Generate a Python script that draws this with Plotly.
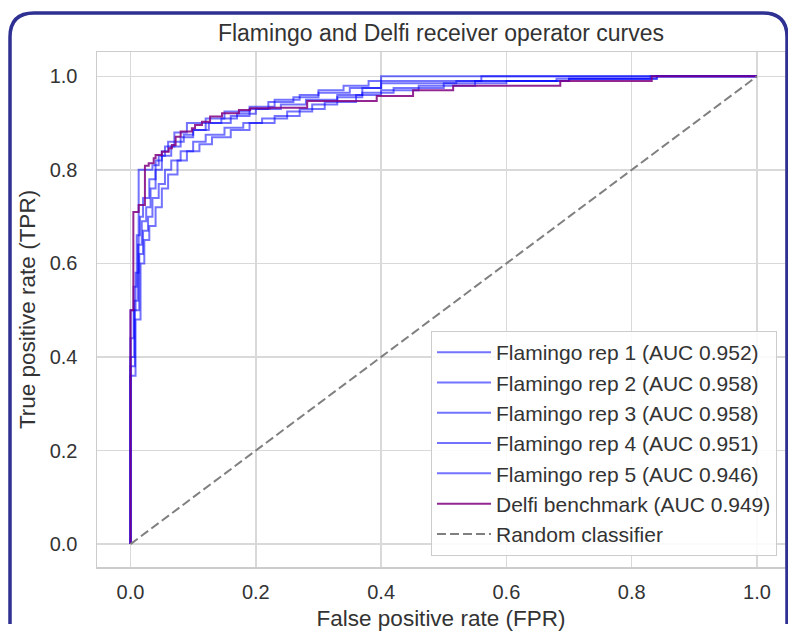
import plotly.graph_objects as go

# ---- data ----
rep1_fpr = [0, 0, 0.008, 0.013, 0.035, 0.045, 0.055, 0.07, 0.085, 0.1, 0.12, 0.145, 0.17, 0.2, 0.24, 0.28, 0.33, 0.37, 0.4, 0.52, 0.68, 0.83, 1.0]
rep1_tpr = [0, 0.50, 0.58, 0.80, 0.81, 0.83, 0.85, 0.86, 0.875, 0.885, 0.90, 0.91, 0.92, 0.93, 0.94, 0.95, 0.96, 0.975, 0.985, 0.99, 0.995, 1.0, 1.0]

rep2_fpr = [0, 0, 0.005, 0.01, 0.015, 0.02, 0.03, 0.04, 0.05, 0.06, 0.07, 0.09, 0.12, 0.15, 0.19, 0.23, 0.27, 0.30, 0.34, 0.38, 0.40, 1.0]
rep2_tpr = [0, 0.44, 0.55, 0.66, 0.70, 0.74, 0.78, 0.82, 0.84, 0.86, 0.88, 0.90, 0.91, 0.925, 0.935, 0.95, 0.96, 0.97, 0.98, 0.99, 1.0, 1.0]

rep3_fpr = [0, 0, 0.006, 0.012, 0.018, 0.025, 0.032, 0.04, 0.05, 0.065, 0.08, 0.10, 0.125, 0.16, 0.19, 0.22, 0.26, 0.30, 0.35, 0.40, 0.56, 1.0]
rep3_tpr = [0, 0.40, 0.52, 0.64, 0.69, 0.72, 0.76, 0.80, 0.83, 0.85, 0.87, 0.885, 0.90, 0.915, 0.93, 0.945, 0.955, 0.965, 0.975, 0.99, 1.0, 1.0]

rep4_fpr = [0, 0, 0.007, 0.014, 0.02, 0.028, 0.035, 0.045, 0.055, 0.065, 0.08, 0.10, 0.12, 0.15, 0.18, 0.21, 0.25, 0.29, 0.33, 0.37, 0.42, 0.50, 0.60, 0.70, 0.84, 1.0]
rep4_tpr = [0, 0.38, 0.50, 0.62, 0.67, 0.70, 0.74, 0.77, 0.80, 0.82, 0.84, 0.86, 0.875, 0.89, 0.90, 0.91, 0.925, 0.94, 0.955, 0.965, 0.975, 0.985, 0.99, 0.995, 1.0, 1.0]

rep5_fpr = [0, 0, 0.008, 0.016, 0.022, 0.03, 0.04, 0.05, 0.06, 0.075, 0.09, 0.11, 0.13, 0.16, 0.19, 0.23, 0.27, 0.31, 0.36, 0.40, 0.46, 0.55, 0.70, 0.84, 1.0]
rep5_tpr = [0, 0.36, 0.48, 0.60, 0.65, 0.68, 0.72, 0.76, 0.79, 0.82, 0.84, 0.855, 0.87, 0.885, 0.90, 0.915, 0.93, 0.945, 0.96, 0.97, 0.98, 0.99, 0.995, 1.0, 1.0]

delfi_fpr = [0, 0, 0.0045, 0.013, 0.023, 0.029, 0.037, 0.040, 0.050, 0.061, 0.066, 0.072, 0.080, 0.098, 0.103, 0.114, 0.127, 0.146, 0.173, 0.191, 0.223, 0.282, 0.393, 0.451, 0.515, 0.686, 0.832, 1.0]
delfi_tpr = [0, 0.50, 0.71, 0.725, 0.809, 0.814, 0.825, 0.832, 0.839, 0.846, 0.853, 0.871, 0.882, 0.889, 0.896, 0.903, 0.914, 0.921, 0.928, 0.932, 0.933, 0.947, 0.958, 0.970, 0.98, 0.99, 1.0, 1.0]

random_fpr = [0, 1]
random_tpr = [0, 1]

rep_names = ["Flamingo rep 1 (AUC 0.952)", "Flamingo rep 2 (AUC 0.958)",
             "Flamingo rep 3 (AUC 0.958)", "Flamingo rep 4 (AUC 0.951)",
             "Flamingo rep 5 (AUC 0.946)"]
delfi_name = "Delfi benchmark (AUC 0.949)"
random_name = "Random classifier"

x_ticks = [0.0, 0.2, 0.4, 0.6, 0.8, 1.0]
y_ticks = [0.0, 0.2, 0.4, 0.6, 0.8, 1.0]

TEXT = "#333333"
FONT = "Liberation Sans, Arial, sans-serif"

fig = go.Figure()
reps = [(rep1_fpr, rep1_tpr), (rep2_fpr, rep2_tpr), (rep3_fpr, rep3_tpr),
        (rep4_fpr, rep4_tpr), (rep5_fpr, rep5_tpr)]
for (fx, ty), name in zip(reps, rep_names):
    fig.add_trace(go.Scatter(x=fx, y=ty, mode="lines", name=name, line_shape="hv",
                             line=dict(color="rgba(0,0,255,0.55)", width=2)))
fig.add_trace(go.Scatter(x=delfi_fpr, y=delfi_tpr, mode="lines", name=delfi_name, line_shape="hv",
                         line=dict(color="rgba(128,0,128,0.85)", width=2)))
fig.add_trace(go.Scatter(x=random_fpr, y=random_tpr, mode="lines", name=random_name,
                         line=dict(color="gray", width=2, dash="9px,4px")))

# outer rounded border (paper coords relative to plot area)
L, R, T, B, W, H = 97, 3, 52, 70, 788, 637
pw, ph = W - L - R, H - T - B
def px(x): return (x - L) / pw
def py(y): return (H - B - y) / ph
bl, br, bt, bb, rad = 10, 787, 13, 648, 24
path = (f"M {px(bl)},{py(bb - rad)} L {px(bl)},{py(bt + rad)} "
        f"Q {px(bl)},{py(bt)} {px(bl + rad)},{py(bt)} "
        f"L {px(br - rad)},{py(bt)} Q {px(br)},{py(bt)} {px(br)},{py(bt + rad)} "
        f"L {px(br)},{py(bb - rad)}")
fig.add_shape(type="path", path=path, xref="paper", yref="paper",
              line=dict(color="#2e3192", width=3.5), layer="above")

axis_common = dict(showgrid=True, gridcolor="#d9d9d9", gridwidth=1.5,
                   showline=True, linecolor="#cccccc", linewidth=1.5, mirror=True,
                   zeroline=False, ticks="", tickfont=dict(size=20, color=TEXT, family=FONT))
fig.update_xaxes(range=[-0.0535, 1.0447], tickvals=x_ticks, tickformat=".1f",
                 title=dict(text="False positive rate (FPR)", font=dict(size=22.5, color=TEXT, family=FONT), standoff=8),
                 ticklabelstandoff=6, **axis_common)
fig.update_yaxes(range=[-0.049, 1.052], tickvals=y_ticks, tickformat=".1f",
                 title=dict(text="True positive rate (TPR)", font=dict(size=22.5, color=TEXT, family=FONT), standoff=8),
                 ticklabelstandoff=14, **axis_common)

fig.update_layout(
    width=W, height=H,
    margin=dict(l=L, r=R, t=T, b=B, autoexpand=False),
    paper_bgcolor="white", plot_bgcolor="white",
    title=dict(text="Flamingo and Delfi receiver operator curves", x=0.5, xref="paper",
               y=(H - 33) / H, yref="container", yanchor="middle",
               font=dict(size=23, color=TEXT, family=FONT)),
    legend=dict(x=px(777), xanchor="right", y=py(556), yanchor="bottom",
                bgcolor="rgba(255,255,255,0.85)", bordercolor="#cccccc", borderwidth=1,
                font=dict(size=21, color=TEXT, family=FONT), itemwidth=54,
                tracegroupgap=0),
    showlegend=True,
    hovermode=False,
    font=dict(family=FONT),
)

fig.write_html("out.html", config={"displayModeBar": False, "staticPlot": True},
               post_script="document.body.style.margin='0';document.body.style.padding='0';")
